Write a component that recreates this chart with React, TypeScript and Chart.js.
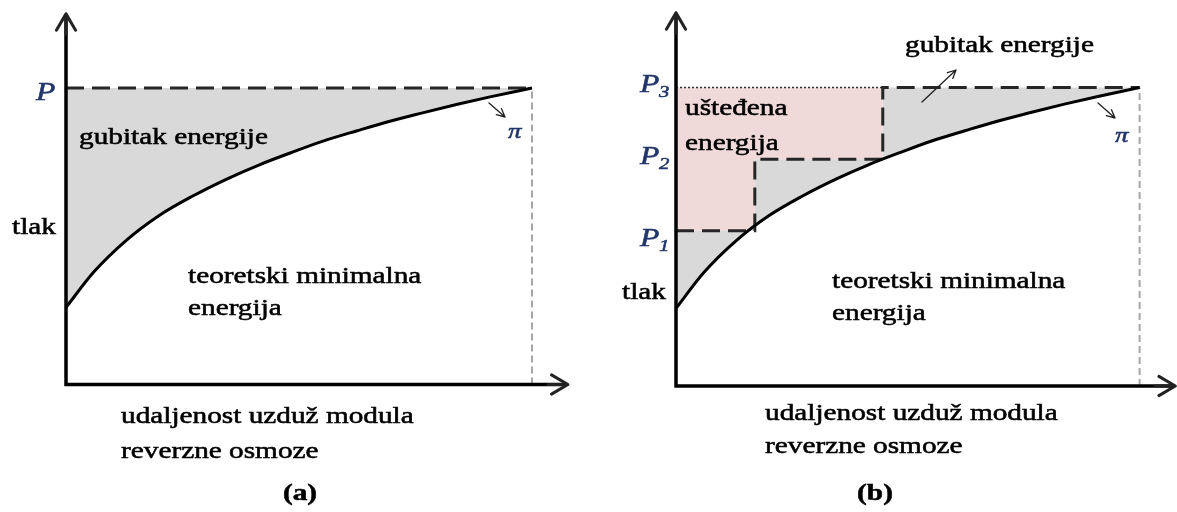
import React, { useEffect, useRef } from "react";
import { Chart, registerables } from "chart.js";
Chart.register(...registerables);

// ---- data ----
const curveX = [0, 6, 13, 20, 27, 34.5, 41.5, 49, 55, 62.5, 69.5, 76.5, 84, 91, 100];
const curveY = [26, 38, 48.7, 57, 63.4, 69.3, 74.1, 78.6, 82, 85.6, 88.8, 91.6, 94.5, 97, 100];
const feedPressure = 100; // P (a)
const stageLevels = [52, 76, 100]; // P1, P2, P3 (b)
const stageStarts = [0, 17, 44.6];
const stageSubscripts = ["1", "2", "3"];
const membraneEnd = 100;
const X_MAX = 107.7;
const Y_MAX = 125;

const FONT = '"Liberation Serif", "Times New Roman", serif';
const SX = 1.22;
const NAVY = "#22366a";

type Lbl = { t: string; x: number; y: number; size?: number; bold?: boolean; italic?: boolean; color?: string; align?: CanvasTextAlign };

function txt(ctx: CanvasRenderingContext2D, l: Lbl) {
  ctx.save();
  ctx.font = `${l.italic ? "italic " : ""}${l.bold ? "bold " : ""}${l.size ?? 24}px ${FONT}`;
  ctx.fillStyle = l.color ?? "#000";
  ctx.strokeStyle = l.color ?? "#000";
  ctx.lineWidth = 0.55;
  ctx.textBaseline = "alphabetic";
  ctx.textAlign = l.align ?? "left";
  ctx.translate(l.x, l.y);
  ctx.scale(SX, 1);
  ctx.fillText(l.t, 0, 0);
  ctx.strokeText(l.t, 0, 0);
  ctx.restore();
}

function arrow(ctx: CanvasRenderingContext2D, x1: number, y1: number, x2: number, y2: number, head = 9, width = 1.3, spread = 0.45) {
  ctx.save();
  ctx.strokeStyle = "#222";
  ctx.lineWidth = width;
  ctx.lineCap = "round";
  ctx.lineJoin = "round";
  ctx.beginPath();
  ctx.moveTo(x1, y1);
  ctx.lineTo(x2, y2);
  const a = Math.atan2(y2 - y1, x2 - x1);
  for (const s of [-1, 1]) {
    const b = a + Math.PI + s * spread;
    ctx.moveTo(x2, y2);
    ctx.lineTo(x2 + head * Math.cos(b), y2 + head * Math.sin(b));
  }
  ctx.stroke();
  ctx.restore();
}

type Extra = {
  labels: Lbl[];
  subs: { level: number; sub: string; dy: number }[];
  subX: number;
  arrows: [number, number, number, number][];
};

function makePlugin(extra: Extra) {
  return {
    id: "decor",
    afterDraw(chart: any) {
      const ctx: CanvasRenderingContext2D = chart.ctx;
      const xs = chart.scales.x, ys = chart.scales.y;
      const x0 = xs.getPixelForValue(0), y0 = ys.getPixelForValue(0);
      const yTop = ys.getPixelForValue(Y_MAX), xRight = xs.getPixelForValue(X_MAX);
      ctx.save();
      ctx.strokeStyle = "#000";
      ctx.lineWidth = 3.5;
      ctx.lineCap = "butt";
      ctx.beginPath();
      ctx.moveTo(x0, y0 + 1.5);
      ctx.lineTo(x0, yTop + 2);
      ctx.moveTo(x0 - 1.5, y0);
      ctx.lineTo(xRight - 2, y0);
      ctx.stroke();
      ctx.restore();
      arrow(ctx, x0, yTop + 20, x0, yTop, 19, 3, 0.53);
      arrow(ctx, xRight - 20, y0, xRight, y0, 19, 3, 0.53);
      for (const a of extra.arrows) arrow(ctx, a[0], a[1], a[2], a[3], 9, 1.3);
      for (const l of extra.labels) txt(ctx, l);
      for (const s of extra.subs) {
        const py = ys.getPixelForValue(s.level) + s.dy;
        txt(ctx, { t: "P", x: extra.subX, y: py, italic: true, size: 26, color: NAVY });
        if (s.sub) txt(ctx, { t: s.sub, x: extra.subX + 19, y: py + 5, italic: true, size: 17, color: NAVY });
      }
    },
  };
}

function curveData() {
  return curveX.map((x, i) => ({ x, y: curveY[i] }));
}

function baseOptions(pad: any) {
  return {
    responsive: false,
    animation: false as const,
    events: [],
    layout: { padding: pad },
    plugins: {
      legend: { display: false },
      tooltip: { enabled: false },
      filler: { drawTime: "beforeDatasetsDraw" },
    },
    elements: { point: { radius: 0 } },
    scales: {
      x: { type: "linear" as const, min: 0, max: X_MAX, display: false },
      y: { type: "linear" as const, min: 0, max: Y_MAX, display: false },
    },
  };
}

function Panel({ which }: { which: "a" | "b" }) {
  const ref = useRef<HTMLCanvasElement>(null);
  useEffect(() => {
    const canvas = ref.current!;
    let chart: Chart;
    if (which === "a") {
      const datasets: any[] = [
        { data: curveData(), borderColor: "#000", borderWidth: 3, cubicInterpolationMode: "monotone", fill: "+1", backgroundColor: "#d9d9d9" },
        { data: [{ x: 0, y: feedPressure }, { x: membraneEnd, y: feedPressure }], borderColor: "#262626", borderWidth: 3, borderDash: [18, 8], fill: false },
        { data: [{ x: membraneEnd, y: 0 }, { x: membraneEnd, y: feedPressure }], borderColor: "#a6a6a6", borderWidth: 2, borderDash: [7, 4], fill: false },
      ];
      const extra: Extra = {
        labels: [
          { t: "gubitak energije", x: 79, y: 144 },
          { t: "tlak", x: 12, y: 234 },
          { t: "teoretski minimalna", x: 188, y: 283 },
          { t: "energija", x: 188, y: 315 },
          { t: "udaljenost uzduž modula", x: 121, y: 423 },
          { t: "reverzne osmoze", x: 121, y: 458 },
          { t: "(a)", x: 300, y: 500, bold: true, align: "center" },
          { t: "π", x: 508, y: 138, italic: true, size: 22, color: NAVY },
        ],
        subs: [{ level: feedPressure, sub: "", dy: 12 }],
        subX: 36,
        arrows: [[489, 103, 505, 117]],
      };
      chart = new Chart(canvas, {
        type: "line",
        data: { datasets },
        options: baseOptions({ left: 66, right: 600 - 567.9, top: 384.5 - Y_MAX * 2.965, bottom: 512 - 384.5 }) as any,
        plugins: [makePlugin(extra)],
      });
    } else {
      const OFF = 600;
      const stepData = stageStarts.map((x, i) => ({ x, y: stageLevels[i] }));
      stepData.push({ x: membraneEnd, y: stageLevels[stageLevels.length - 1] });
      const top = stageLevels[stageLevels.length - 1];
      const datasets: any[] = [
        { data: curveData(), borderColor: "#000", borderWidth: 3, cubicInterpolationMode: "monotone", fill: "+1", backgroundColor: "#d9d9d9" },
        { data: stepData, stepped: true, borderColor: "#262626", borderWidth: 3, borderDash: [18, 8], fill: "+1", backgroundColor: "#f0dad9" },
        { data: [{ x: 0, y: top }, { x: stageStarts[stageStarts.length - 1], y: top }], borderColor: "#333", borderWidth: 1.5, borderDash: [2, 2], fill: false },
        { data: [{ x: membraneEnd, y: 0 }, { x: membraneEnd, y: top }], borderColor: "#a6a6a6", borderWidth: 2, borderDash: [7, 4], fill: false },
      ];
      const extra: Extra = {
        labels: [
          { t: "gubitak energije", x: 905 - OFF, y: 52 },
          { t: "ušteđena", x: 685 - OFF, y: 115 },
          { t: "energija", x: 685 - OFF, y: 150 },
          { t: "tlak", x: 622 - OFF, y: 299 },
          { t: "teoretski minimalna", x: 832 - OFF, y: 288 },
          { t: "energija", x: 832 - OFF, y: 320 },
          { t: "udaljenost uzduž modula", x: 765 - OFF, y: 420 },
          { t: "reverzne osmoze", x: 765 - OFF, y: 453 },
          { t: "(b)", x: 875 - OFF, y: 500, bold: true, align: "center" },
          { t: "π", x: 1115 - OFF, y: 142, italic: true, size: 22, color: NAVY },
        ],
        subs: stageLevels.map((lv, i) => ({ level: lv, sub: stageSubscripts[i], dy: [15, 5, 4.5][i] })),
        subX: 640 - OFF,
        arrows: [[1098 - OFF, 103, 1115 - OFF, 118], [922 - OFF, 102, 956 - OFF, 70]],
      };
      chart = new Chart(canvas, {
        type: "line",
        data: { datasets },
        options: baseOptions({ left: 76, right: 1.7, top: 386 - Y_MAX * 2.985, bottom: 512 - 386 }) as any,
        plugins: [makePlugin(extra)],
      });
    }
    return () => chart.destroy();
  }, [which]);
  const w = which === "a" ? 600 : 577;
  return (
    <canvas
      ref={ref}
      width={w}
      height={512}
      style={{ position: "absolute", left: which === "a" ? 0 : 600, top: 0, width: w, height: 512 }}
    />
  );
}

export default function App() {
  return (
    <div style={{ position: "absolute", left: 0, top: 0, width: 1177, height: 512, background: "#fff", overflow: "hidden" }}>
      <Panel which="a" />
      <Panel which="b" />
    </div>
  );
}
